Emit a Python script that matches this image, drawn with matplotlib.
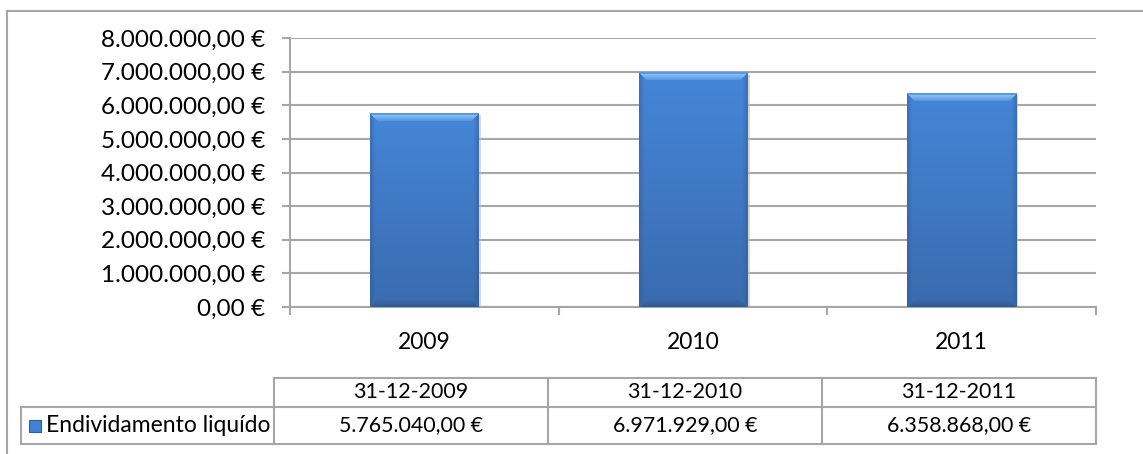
import numpy as np
import matplotlib
matplotlib.use("Agg")
import matplotlib.pyplot as plt
from matplotlib.lines import Line2D
from matplotlib.patches import Rectangle

# ---- data ----
categories = ["2009", "2010", "2011"]
dates = ["31-12-2009", "31-12-2010", "31-12-2011"]
values = [5765040.00, 6971929.00, 6358868.00]
series_name = "Endividamento liquído"
y_ticks = [0, 1000000, 2000000, 3000000, 4000000, 5000000, 6000000, 7000000, 8000000]


def eur(v):
    s = f"{v:,.2f}"
    s = s.replace(",", "X").replace(".", ",").replace("X", ".")
    return s + " €"


W, H = 1143, 454
plt.rcParams['font.family'] = ['Lato', 'DejaVu Sans']
FS_Y = 17.5
FS_X = 16.5
FS_T = 15.4
FS_L = 16.5
GRID = "#a6a6a6"

fig = plt.figure(figsize=(W / 100, H / 100), dpi=100)


def fx(x):
    return x / W


def fy(y):
    return 1 - y / H


# plot area in pixels
L, R, T, B = 290, 1096, 38, 307
ax = fig.add_axes([fx(L), fy(B), fx(R - L), (B - T) / H])
ax.set_xlim(0, len(categories))
ax.set_ylim(0, 8000000)
ax.set_axisbelow(True)

x = np.arange(len(categories)) + 0.5
bw = 109 / ((R - L) / 3)
bars = ax.bar(x, values, width=bw, color="#4181d3", edgecolor="none", zorder=2)

# gradient / bevel fill of bars
top_c = np.array([0x45, 0x86, 0xd8]) / 255
bot_c = np.array([0x3a, 0x6b, 0xae]) / 255
light = np.array([0x8c, 0xc6, 0xfa]) / 255
dark = np.array([0x2e, 0x57, 0x92]) / 255
px_per_unit = (B - T) / 8000000
for p in bars.patches:
    hpx = max(int(round(p.get_height() * px_per_unit)), 2)
    wpx = 109
    yy, xx = np.mgrid[0:hpx, 0:wpx]
    t = yy / max(hpx - 1, 1)
    img = top_c[None, None, :] * (1 - t[..., None]) + bot_c[None, None, :] * t[..., None]
    dt = yy.astype(float)
    db = (hpx - 1 - yy).astype(float)
    dl = xx.astype(float)
    dr = (wpx - 1 - xx).astype(float)
    bev = 8.0
    out = img.copy()
    # top bevel
    m = (dt <= np.minimum(np.minimum(db, dl), dr)) & (dt < bev)
    f = np.clip(1 - (dt - 1.5) / bev, 0, 1)[..., None] * 0.95
    out = np.where(m[..., None], img * (1 - f) + light * f, out)
    m0 = (dt < 1.5) & (dt <= np.minimum(dl, dr))
    out = np.where(m0[..., None], np.array([0x5c, 0x98, 0xe2]) / 255, out)
    # bottom bevel
    m = (db < np.minimum(np.minimum(dt, dl), dr)) & (db < bev)
    f = (1 - db / bev)[..., None] * 0.75
    out = np.where(m[..., None], img * (1 - f) + dark * f, out)
    # side bevels
    m = (np.minimum(dl, dr) < np.minimum(dt, db)) & (np.minimum(dl, dr) < 5)
    f = (1 - np.minimum(dl, dr) / 5)[..., None] * 0.45
    out = np.where(m[..., None], img * (1 - f) + dark * f, out)
    x0 = p.get_x()
    ax.imshow(out, extent=[x0, x0 + p.get_width(), 0, p.get_height()],
              aspect="auto", origin="upper", zorder=3, interpolation="bilinear")
    # subtle shadow
    ax.add_patch(Rectangle((x0 + 0.008, -60000), p.get_width(), p.get_height(),
                           facecolor="#bfbfbf", edgecolor="none", zorder=1.5, alpha=0.6))
ax.set_xlim(0, len(categories))
ax.set_ylim(0, 8000000)

ax.set_yticks(y_ticks)
ax.set_yticklabels([eur(v) for v in y_ticks], fontsize=FS_Y)
ax.yaxis.grid(True, color=GRID, linewidth=1.5)
ax.tick_params(axis="y", length=6, width=1.5, color=GRID, pad=12)

ax.set_xticks(np.arange(len(categories) + 1))
ax.set_xticklabels([])
ax.tick_params(axis="x", which="major", length=6, width=1.5, color=GRID)
ax.set_xticks(x, minor=True)
ax.set_xticklabels(categories, minor=True, fontsize=FS_X)
ax.tick_params(axis="x", which="minor", length=0, pad=18)

for s in ["top", "right"]:
    ax.spines[s].set_visible(False)
for s in ["left", "bottom"]:
    ax.spines[s].set_color(GRID)
    ax.spines[s].set_linewidth(1.5)


def hline(x0, x1, y, lw=1.5):
    fig.add_artist(Line2D([fx(x0), fx(x1)], [fy(y), fy(y)], color=GRID, lw=lw))


def vline(x, y0, y1, lw=1.5):
    fig.add_artist(Line2D([fx(x), fx(x)], [fy(y0), fy(y1)], color=GRID, lw=lw))


# outer frame
hline(7, W + 5, 11)
vline(7, 11, H + 5)

# data table
cols = [274, 548, 822, 1096]
y_top, y_mid, y_bot = 378, 407, 444
hline(cols[0], cols[-1], y_top)
hline(21, cols[-1], y_mid)
hline(21, cols[-1], y_bot)
for c in cols:
    vline(c, y_top, y_bot)
vline(21, y_mid, y_bot)

for i in range(len(categories)):
    cx = (cols[i] + cols[i + 1]) / 2
    fig.text(fx(cx), fy((y_top + y_mid) / 2), dates[i], ha="center", va="center", fontsize=FS_T)
    fig.text(fx(cx), fy((y_mid + y_bot) / 2), eur(values[i]), ha="center", va="center", fontsize=FS_T)

# legend key + series name
fig.add_artist(Rectangle((fx(29), fy(432)), 12 / W, 12 / H, facecolor="#4181d3",
                         edgecolor="#2f5f9e", lw=0.8))
fig.text(fx(46), fy((y_mid + y_bot) / 2), series_name, ha="left", va="center", fontsize=FS_L)

fig.savefig("out.png", dpi=100)
